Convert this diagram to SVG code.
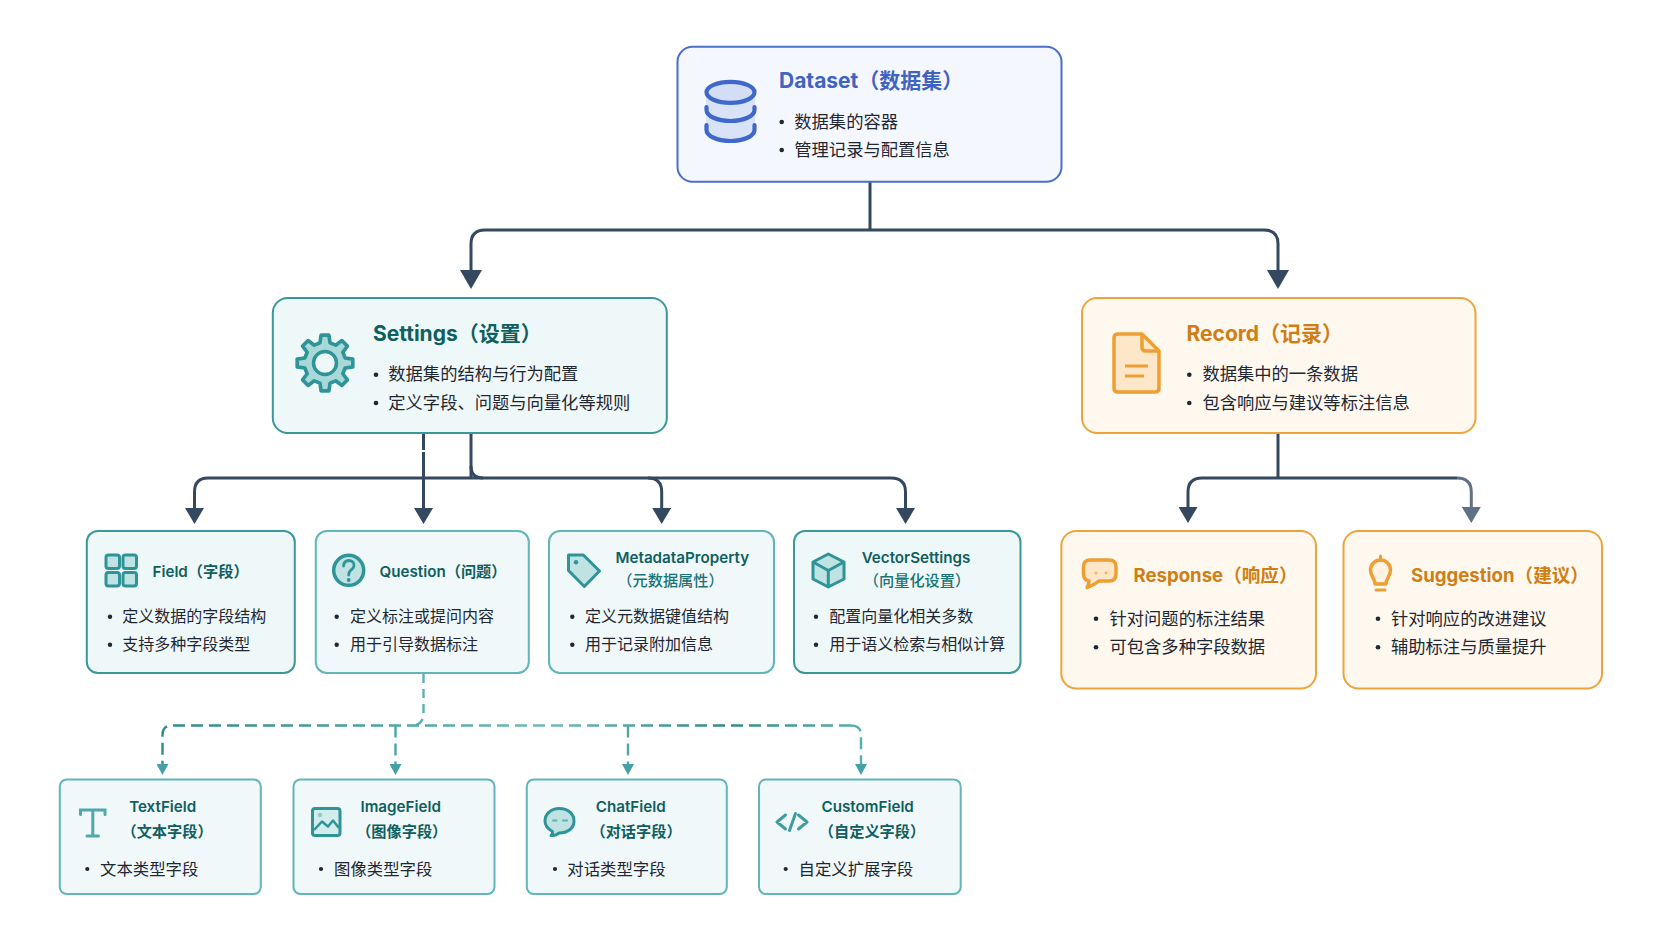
<svg xmlns="http://www.w3.org/2000/svg" width="1672" height="941" viewBox="0 0 1672 941">
<style>
text{font-family:"Inter","Noto Sans CJK SC",sans-serif}
.body{font-size:16px;fill:#1f2733;font-family:"Noto Sans CJK SC",sans-serif}
.b17{font-size:17.3px}
.b16{font-size:16.4px}
.dot{fill:#1f2733}
.t-l{font-size:21px;font-weight:700}
.t-m{font-size:18.6px;font-weight:700}
.t-s{font-size:15.2px;font-weight:600;fill:#0f5f60}
.mid{text-anchor:middle}
.blue{fill:#3f63c0}.dteal{fill:#0f5f60}.org{fill:#d07e14}
.box{stroke-width:2}
.nb{fill:#f5f7fe;stroke:#4a6fc9}
.nt{fill:#eff8f8;stroke:#3a989b}
.ntl{fill:#f0f8f9;stroke:#62b5b8}
.no{fill:#fef8ef;stroke:#f0a33a}
.it{fill:#bfe2e3;stroke:#2f9497;stroke-width:3;stroke-linejoin:round;stroke-linecap:round}
.io{fill:#fde7c8;stroke:#ee9f33;stroke-width:3.500;stroke-linejoin:round;stroke-linecap:round}
.ln{fill:none;stroke:#34485f;stroke-width:3}
.dash{fill:none;stroke:url(#dg);stroke-width:2.400;stroke-dasharray:12 6}
</style>
<defs>
<marker id="hl" markerUnits="userSpaceOnUse" markerWidth="19" markerHeight="22" viewBox="0 0 19 22" refX="0" refY="11" orient="auto"><path d="M0 0L19 11L0 22Z" fill="#34485f"/></marker>
<marker id="hm" markerUnits="userSpaceOnUse" markerWidth="16" markerHeight="19" viewBox="0 0 16 19" refX="0" refY="9.500" orient="auto"><path d="M0 0L16 9.500L0 19Z" fill="#34485f"/></marker>
<marker id="hg" markerUnits="userSpaceOnUse" markerWidth="16" markerHeight="19" viewBox="0 0 16 19" refX="0" refY="9.500" orient="auto"><path d="M0 0L16 9.500L0 19Z" fill="#5f7087"/></marker>
<marker id="hd" markerUnits="userSpaceOnUse" markerWidth="11" markerHeight="12" viewBox="0 0 11 12" refX="0" refY="6" orient="auto"><path d="M0 0L11 6L0 12Z" fill="#45a1a4"/></marker>
<linearGradient id="dg" gradientUnits="userSpaceOnUse" x1="160" y1="0" x2="865" y2="0"><stop offset="0" stop-color="#2f8a8d"/><stop offset=".35" stop-color="#4fa6a9"/><stop offset=".55" stop-color="#6fbabc"/><stop offset=".8" stop-color="#2f8a8d"/><stop offset="1" stop-color="#5aaeb1"/></linearGradient>
</defs>
<rect width="1672" height="941" fill="#ffffff"/>

<g id="connectors">
<path class="ln" d="M870 182V230"/>
<path class="ln" marker-end="url(#hl)" d="M485 230Q471 230 471 244V270"/>
<path class="ln" d="M485 230H1264"/>
<path class="ln" marker-end="url(#hl)" d="M1264 230Q1278 230 1278 244V270"/>
<path class="ln" d="M471 433V478"/>
<path class="ln" d="M471 466Q471 478 483 478"/>
<path class="ln" d="M208 478H891"/>
<path class="ln" marker-end="url(#hm)" d="M208 478Q194.500 478 194.500 492V508"/>
<path class="ln" d="M423.500 433V450"/>
<path class="ln" marker-end="url(#hm)" d="M423.500 452V508"/>
<path class="ln" marker-end="url(#hm)" d="M648 478Q661.700 478 661.700 492V508"/>
<path class="ln" marker-end="url(#hm)" d="M891 478Q905.500 478 905.500 492V508"/>
<path class="ln" d="M1278 433V478"/>
<path class="ln" d="M1202 478H1457"/>
<path class="ln" marker-end="url(#hm)" d="M1202 478Q1188 478 1188 492V507"/>
<path class="ln" style="stroke:#5f7087" marker-end="url(#hg)" d="M1457 478Q1471.300 478 1471.300 492V507"/>
<path class="dash" style="stroke:#5fb0b3;stroke-dasharray:9 6" d="M423.500 674V713Q423.500 725.500 411 725.500"/>
<path class="dash" marker-end="url(#hd)" d="M851 725.500H172Q162.500 725.500 162.500 735V764"/>
<path class="dash" marker-end="url(#hd)" d="M395.500 725.500V764"/>
<path class="dash" marker-end="url(#hd)" d="M628 725.500V764"/>
<path class="dash" marker-end="url(#hd)" d="M851 725.500Q861 725.500 861 735V764"/>
</g>

<g id="dataset">
<rect class="box nb" x="677.500" y="46.800" width="384" height="135" rx="15"/>
<path d="M706 92V130A24.500 11 0 0 0 755 130V92Z" fill="#d9e2f7"/>
<ellipse cx="730.500" cy="92.300" rx="24" ry="10.500" fill="#d3def6" stroke="#3f68cb" stroke-width="4.200"/>
<path d="M706.500 107V110A24 11 0 0 0 754.500 110V107M706.500 125V130A24 11 0 0 0 754.500 130V125" fill="none" stroke="#3f68cb" stroke-width="4.200" stroke-linecap="round"/>
<text class="t-l blue" x="779" y="88">Dataset（数据集）</text>
<circle class="dot" cx="781.700" cy="122" r="2.300"/><text class="body b17" x="794.300" y="127.700">数据集的容器</text>
<circle class="dot" cx="781.700" cy="150" r="2.300"/><text class="body b17" x="794.300" y="156">管理记录与配置信息</text>
</g>

<g id="settings">
<rect class="box nt" x="272.800" y="298" width="394" height="135" rx="15"/>
<path transform="translate(325 363) scale(1.040)" d="M-4.840-19.410L-3.760-26.740 3.760-26.740 4.840-19.410 10.300-17.140 16.250-21.560 21.560-16.250 17.140-10.300 19.410-4.840 26.740-3.760 26.740 3.760 19.410 4.840 17.140 10.300 21.560 16.250 16.250 21.560 10.300 17.140 4.840 19.410 3.760 26.740-3.760 26.740-4.840 19.410-10.300 17.140-16.250 21.560-21.560 16.250-17.140 10.300-19.410 4.840-26.740 3.760-26.740-3.760-19.410-4.840-17.140-10.300-21.560-16.250-16.250-21.560-10.300-17.140Z" fill="#a9d8d9" stroke="#2f9497" stroke-width="3.500" stroke-linejoin="round"/>
<circle cx="325" cy="363" r="11.500" fill="#eff8f8" stroke="#2f9497" stroke-width="3.500"/>
<text class="t-l dteal" x="373" y="341">Settings（设置）</text>
<circle class="dot" cx="376" cy="374.700" r="2.300"/><text class="body b17" x="388.300" y="380">数据集的结构与行为配置</text>
<circle class="dot" cx="376" cy="403" r="2.300"/><text class="body b17" x="388.300" y="408.800">定义字段、问题与向量化等规则</text>
</g>

<g id="record">
<rect class="box no" x="1082" y="298" width="393.500" height="135" rx="15"/>
<path class="io" d="M1118 334H1142L1159 351V388Q1159 392 1155 392H1118Q1114 392 1114 388V338Q1114 334 1118 334Z"/>
<path d="M1142 335V347Q1142 351 1146 351H1158" fill="none" stroke="#ee9f33" stroke-width="3.500"/>
<path d="M1125 366H1148M1125 376H1144" stroke="#ee9f33" stroke-width="3" fill="none"/>
<text class="t-l org" x="1186.500" y="341">Record（记录）</text>
<circle class="dot" cx="1189.300" cy="374.700" r="2.300"/><text class="body b17" x="1202.400" y="380">数据集中的一条数据</text>
<circle class="dot" cx="1189.300" cy="403" r="2.300"/><text class="body b17" x="1202.400" y="408.800">包含响应与建议等标注信息</text>
</g>

<g id="field">
<rect class="box nt" x="86.800" y="531" width="208" height="142" rx="11"/>
<rect class="it" x="106" y="555" width="13.500" height="13.500" rx="2.500"/><rect class="it" x="123" y="555" width="13.500" height="13.500" rx="2.500"/>
<rect class="it" x="106" y="572.500" width="13.500" height="13.500" rx="2.500"/><rect class="it" x="123" y="572.500" width="13.500" height="13.500" rx="2.500"/>
<text class="t-s" x="152.500" y="576.500">Field（字段）</text>
<circle class="dot" cx="110" cy="616.700" r="2.200"/><text class="body" x="122.300" y="622.300">定义数据的字段结构</text>
<circle class="dot" cx="110" cy="644.700" r="2.200"/><text class="body" x="122.300" y="650.300">支持多种字段类型</text>
</g>

<g id="question">
<rect class="box ntl" x="315.800" y="531" width="213" height="142" rx="11"/>
<circle class="it" style="stroke-width:3.500" cx="348.700" cy="570.300" r="15"/>
<path d="M343.500 566Q344 560.500 349 560.500Q354.500 561 354 566Q353.500 568.500 350.500 570.500Q348.700 572 348.700 575" fill="none" stroke="#2f9497" stroke-width="2.800" stroke-linecap="round"/>
<circle cx="348.700" cy="580" r="1.900" fill="#2f9497"/>
<text class="t-s" x="379.500" y="576.500">Question（问题）</text>
<circle class="dot" cx="336.700" cy="616.700" r="2.200"/><text class="body" x="350" y="622.300">定义标注或提问内容</text>
<circle class="dot" cx="336.700" cy="644.700" r="2.200"/><text class="body" x="350" y="650.300">用于引导数据标注</text>
</g>

<g id="metadataproperty">
<rect class="box ntl" x="549" y="531" width="225" height="142" rx="11"/>
<path class="it" d="M568.500 555H583.300L599.500 571 584.300 586.500 568.500 570.500Z"/>
<circle cx="576" cy="562.300" r="2.200" fill="#2f9497"/>
<text class="t-s mid" x="682.300" y="562.500">MetadataProperty</text>
<text class="t-s mid" style="font-weight:500;fill:#1a7376" x="670.500" y="586">（元数据属性）</text>
<circle class="dot" cx="572.300" cy="616.700" r="2.200"/><text class="body" x="585" y="622.300">定义元数据键值结构</text>
<circle class="dot" cx="572.300" cy="644.700" r="2.200"/><text class="body" x="585" y="650.300">用于记录附加信息</text>
</g>

<g id="vectorsettings">
<rect class="box nt" x="794" y="531" width="226.500" height="142" rx="11"/>
<path class="it" d="M828.300 554L844 562V579L828.300 587 813 579V562Z"/>
<path d="M813 562L828.300 570.500 844 562M828.300 570.500V587" fill="none" stroke="#2f9497" stroke-width="3" stroke-linejoin="round"/>
<text class="t-s mid" x="916" y="562.500">VectorSettings</text>
<text class="t-s mid" style="font-weight:500;fill:#1a7376" x="917" y="586">（向量化设置）</text>
<circle class="dot" cx="816" cy="616.700" r="2.200"/><text class="body" x="829.300" y="622.300">配置向量化相关多数</text>
<circle class="dot" cx="816" cy="644.700" r="2.200"/><text class="body" x="829.300" y="650.300">用于语义检索与相似计算</text>
</g>

<g id="response">
<rect class="box no" x="1061.300" y="531" width="254.700" height="157.500" rx="15"/>
<path class="io" d="M1090 560H1109Q1116 560 1116 567V574Q1116 581 1109 581H1099Q1094 585 1087 587.500Q1089 584 1089 581Q1083.500 580 1083.500 574V567Q1083.500 560 1090 560Z"/>
<circle cx="1096" cy="573" r="1.500" fill="#f3b56a"/><circle cx="1106" cy="573" r="1.500" fill="#f3b56a"/>
<text class="t-m org" x="1133.500" y="581.500">Response（响应）</text>
<circle class="dot" cx="1096" cy="618.700" r="2.300"/><text class="body b17" x="1109.500" y="624.500">针对问题的标注结果</text>
<circle class="dot" cx="1096" cy="647.300" r="2.300"/><text class="body b17" x="1109.500" y="653.100">可包含多种字段数据</text>
</g>

<g id="suggestion">
<rect class="box no" x="1343.500" y="531" width="258.500" height="157.500" rx="15"/>
<path class="io" style="fill:#fef3e2" d="M1375 584C1375 578 1370.500 577 1370.500 570A10 10 0 0 1 1390.500 570C1390.500 577 1386 578 1386 584Z"/>
<path d="M1380.500 556V560M1376 590H1385" stroke="#ee9f33" stroke-width="3" stroke-linecap="round" fill="none"/>
<text class="t-m org" x="1411" y="581.500">Suggestion（建议）</text>
<circle class="dot" cx="1378" cy="618.700" r="2.300"/><text class="body b17" x="1391" y="624.500">针对响应的改进建议</text>
<circle class="dot" cx="1378" cy="647.300" r="2.300"/><text class="body b17" x="1391" y="653.100">辅助标注与质量提升</text>
</g>

<g id="textfield">
<rect class="box ntl" x="59.800" y="779.500" width="201" height="114.500" rx="7"/>
<path d="M80.500 814.500V810H105V814.500M92.800 810V836M87 836H98.500" fill="none" stroke="#4fa8ab" stroke-width="3" stroke-linecap="round"/>
<text class="t-s mid" x="162.700" y="812">TextField</text>
<text class="t-s mid" x="167" y="836.800">（文本字段）</text>
<circle class="dot" cx="87.300" cy="869" r="2.100"/><text class="body b16" x="100" y="874.600">文本类型字段</text>
</g>

<g id="imagefield">
<rect class="box ntl" x="293.500" y="779.500" width="201" height="114.500" rx="7"/>
<rect x="312.500" y="808.500" width="27.500" height="27" rx="2.500" fill="#d3ecec" stroke="#2f9497" stroke-width="3"/>
<path d="M314 830L322 821.500 328 826.500 333 820.500 339 828" fill="none" stroke="#2f9497" stroke-width="2.500" stroke-linejoin="round"/>
<circle cx="320" cy="815" r="2.300" fill="#8fcccd"/>
<text class="t-s mid" x="400.700" y="812">ImageField</text>
<text class="t-s mid" x="401.700" y="836.800">（图像字段）</text>
<circle class="dot" cx="321" cy="869" r="2.100"/><text class="body b16" x="334" y="874.600">图像类型字段</text>
</g>

<g id="chatfield">
<rect class="box ntl" x="526.800" y="779.500" width="200" height="114.500" rx="7"/>
<path class="it" d="M559.500 808.500C568 808.500 574 814 574 821C574 828.500 567.500 833 559 833Q556 836 551 835.500Q553 833.500 552.500 831.500C548 829 545 825.500 545 821C545 814 551 808.500 559.500 808.500Z"/>
<path d="M553 820.500H556.500M563 820.500H567" stroke="#5fb0b3" stroke-width="2" stroke-linecap="round"/>
<text class="t-s mid" x="630.700" y="812">ChatField</text>
<text class="t-s mid" x="636" y="836.800">（对话字段）</text>
<circle class="dot" cx="555" cy="869" r="2.100"/><text class="body b16" x="567.300" y="874.600">对话类型字段</text>
</g>

<g id="customfield">
<rect class="box ntl" x="759" y="779.500" width="201.700" height="114.500" rx="7"/>
<path d="M785.500 815L777 822 785.500 829M789.500 830.500L795.500 813.500M798.500 815L807 822 798.500 829" fill="none" stroke="#3f9da0" stroke-width="3" stroke-linecap="round" stroke-linejoin="round"/>
<text class="t-s mid" x="867.700" y="812">CustomField</text>
<text class="t-s mid" x="872" y="836.800">（自定义字段）</text>
<circle class="dot" cx="785.700" cy="869" r="2.100"/><text class="body b16" x="798.500" y="874.600">自定义扩展字段</text>
</g>
</svg>
